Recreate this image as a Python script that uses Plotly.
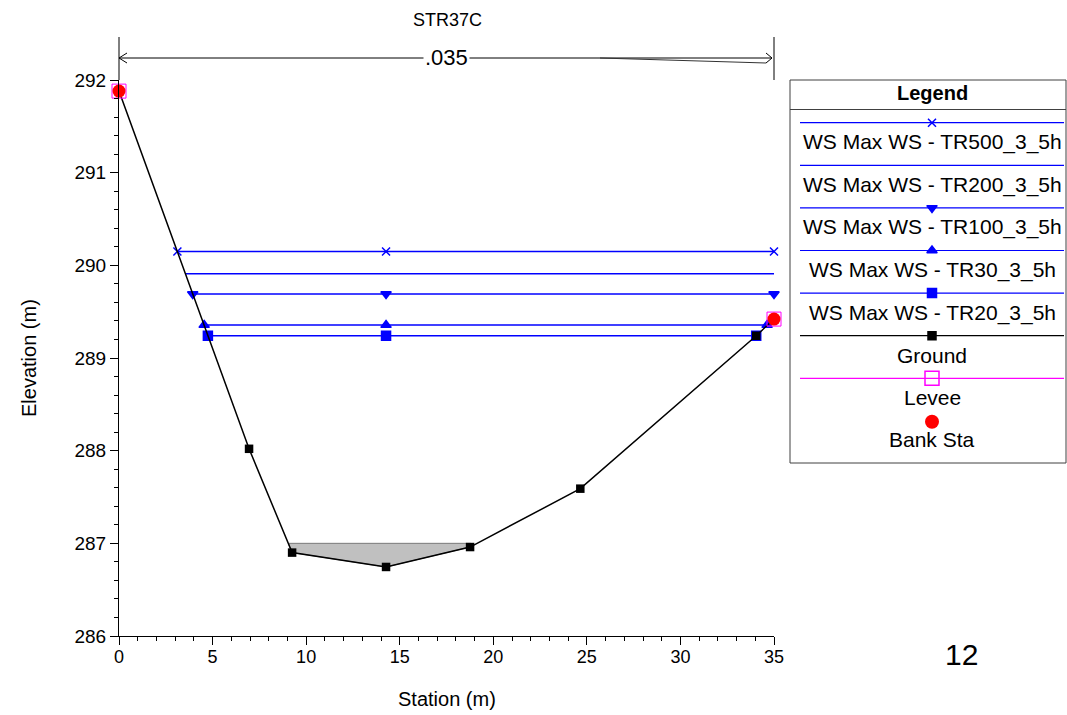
import plotly.graph_objects as go
import numpy as np

# ---------------- data ----------------
title_text = "STR37C"
x_label = "Station (m)"
y_label = "Elevation (m)"
n_value_label = ".035"
n_value_sta = [0.0, 35.0]

ground_sta = [0.0, 6.95, 9.25, 14.27, 18.76, 24.65, 34.05, 35.0]
ground_elev = [291.88, 288.02, 286.90, 286.745, 286.96, 287.59, 289.24, 289.42]

ws500_sta = [3.12, 14.27, 35.0]
ws500_elev = [290.15, 290.15, 290.15]
ws200_sta = [3.55, 35.0]
ws200_elev = [289.91, 289.91]
ws100_sta = [3.94, 14.27, 35.0]
ws100_elev = [289.69, 289.69, 289.69]
ws30_sta = [4.55, 14.27, 34.63]
ws30_elev = [289.355, 289.355, 289.355]
ws20_sta = [4.75, 14.27, 34.05]
ws20_elev = [289.24, 289.24, 289.24]

levee_sta = [0.0, 35.0]
levee_elev = [291.88, 289.42]
bank_sta = [0.0, 35.0]
bank_elev = [291.88, 289.42]

fill_sta = [9.08, 18.80]
fill_elev = 287.0

legend_names = ["WS Max WS - TR500_3_5h", "WS Max WS - TR200_3_5h", "WS Max WS - TR100_3_5h",
                "WS Max WS - TR30_3_5h", "WS Max WS - TR20_3_5h", "Ground", "Levee", "Bank Sta"]
page_number = "12"

# ---------------- layout geometry (pixels) ----------------
W, H = 1067, 715
PL, PR, PT, PB = 119, 774, 80, 636
X_RANGE = [0, 35]
Y_RANGE = [286, 292]

def px_x(p):
    return p / W

def px_y(p):
    return 1 - p / H

def data_to_px_x(v):
    return PL + (v - X_RANGE[0]) / (X_RANGE[1] - X_RANGE[0]) * (PR - PL)

FONT = "Liberation Sans, Arial, sans-serif"
BLUE = "#0000ff"

fig = go.Figure()

# ineffective / fill region
g_sta = np.array(ground_sta)
g_el = np.array(ground_elev)
inner = [(s, e) for s, e in zip(ground_sta, ground_elev) if fill_sta[0] < s < fill_sta[1]]
poly_x = [fill_sta[0], fill_sta[1], fill_sta[1]] + [s for s, _ in reversed(inner)] + [fill_sta[0]]
poly_y = [fill_elev, fill_elev, float(np.interp(fill_sta[1], g_sta, g_el))] + \
         [e for _, e in reversed(inner)] + [float(np.interp(fill_sta[0], g_sta, g_el))]
fig.add_trace(go.Scatter(x=poly_x + [poly_x[0]], y=poly_y + [poly_y[0]], mode="lines",
                         fill="toself", fillcolor="#c0c0c0",
                         line=dict(color="#7a7a7a", width=1), hoverinfo="skip", showlegend=False))

def ws_trace(x, y, symbol):
    return go.Scatter(x=x, y=y, mode="lines+markers" if symbol else "lines",
                      line=dict(color=BLUE, width=1.5),
                      marker=dict(symbol=symbol or "circle", size=9 if symbol != "x-thin" else 8,
                                  color=BLUE, line=dict(color=BLUE, width=1.5)),
                      cliponaxis=False, showlegend=False)

fig.add_trace(ws_trace(ws500_sta, ws500_elev, "x-thin"))
fig.add_trace(ws_trace(ws200_sta, ws200_elev, None))
fig.add_trace(ws_trace(ws100_sta, ws100_elev, "triangle-down"))
fig.add_trace(ws_trace(ws30_sta, ws30_elev, "triangle-up"))
fig.add_trace(ws_trace(ws20_sta, ws20_elev, "square"))

fig.add_trace(go.Scatter(x=ground_sta, y=ground_elev, mode="lines+markers",
                         line=dict(color="black", width=1.5),
                         marker=dict(symbol="square", size=8.5, color="black"),
                         cliponaxis=False, showlegend=False))
fig.add_trace(go.Scatter(x=levee_sta, y=levee_elev, mode="markers",
                         marker=dict(symbol="square-open", size=14, color="#ff00ff",
                                     line=dict(color="#ff00ff", width=1)),
                         cliponaxis=False, showlegend=False))
fig.add_trace(go.Scatter(x=bank_sta, y=bank_elev, mode="markers",
                         marker=dict(symbol="circle", size=13, color="#ff0000"),
                         cliponaxis=False, showlegend=False))

# ---------------- custom legend on an overlay axis ----------------
LX0, LX1, LY0, LY1 = 790, 1066, 80, 463
leg_line_y = [122.7 + 42.6 * i for i in range(7)]
leg_text_dy = 19.5
leg_cx = 932
leg_styles = [
    (BLUE, "x-thin", 8), (BLUE, None, 0), (BLUE, "triangle-down", 9),
    (BLUE, "triangle-up", 9), (BLUE, "square", 9), ("black", "square", 8),
    ("#ff00ff", "square-open", 14),
]
for ly, (col, sym, sz) in zip(leg_line_y, leg_styles):
    fig.add_trace(go.Scatter(x=[800, 1064], y=[ly, ly], mode="lines", line=dict(color=col, width=1.2),
                             xaxis="x2", yaxis="y2", showlegend=False, hoverinfo="skip"))
    if sym:
        fig.add_trace(go.Scatter(x=[leg_cx], y=[ly], mode="markers",
                                 marker=dict(symbol=sym, size=sz, color=col, line=dict(color=col, width=1.5)),
                                 xaxis="x2", yaxis="y2", showlegend=False, hoverinfo="skip",
                                 cliponaxis=False))
fig.add_trace(go.Scatter(x=[leg_cx], y=[421.7], mode="markers",
                         marker=dict(symbol="circle", size=14, color="#ff0000"),
                         xaxis="x2", yaxis="y2", showlegend=False, hoverinfo="skip", cliponaxis=False))

annotations = []
shapes = []
text_y = [ly + leg_text_dy for ly in leg_line_y] + [439.5]
for name, ty in zip(legend_names, text_y):
    annotations.append(dict(x=leg_cx, y=ty, xref="x2", yref="y2", text=name, showarrow=False,
                            font=dict(family=FONT, size=21, color="black"),
                            xanchor="center", yanchor="middle"))
annotations.append(dict(x=leg_cx, y=93.5, xref="x2", yref="y2", text="<b>Legend</b>", showarrow=False,
                        font=dict(family=FONT, size=20, color="black"), xanchor="center", yanchor="middle"))
shapes.append(dict(type="rect", xref="paper", yref="paper", x0=px_x(LX0), x1=px_x(LX1),
                   y0=px_y(LY0), y1=px_y(LY1), line=dict(color="#404040", width=1)))
shapes.append(dict(type="line", xref="paper", yref="paper", x0=px_x(LX0), x1=px_x(LX1),
                   y0=px_y(109.5), y1=px_y(109.5), line=dict(color="#404040", width=1)))

# ---------------- n-value marker ----------------
nx0 = data_to_px_x(n_value_sta[0])
nx1 = data_to_px_x(n_value_sta[1])
ny = 58
ntop = 37
line_style = dict(color="black", width=1)
for xv in (nx0, nx1):
    shapes.append(dict(type="line", xref="paper", yref="paper", x0=px_x(xv), x1=px_x(xv),
                       y0=px_y(ntop), y1=px_y(PT), line=line_style))
shapes.append(dict(type="line", xref="paper", yref="paper", x0=px_x(nx0), x1=px_x(nx1 - 2),
                   y0=px_y(ny), y1=px_y(ny), line=line_style))
shapes.append(dict(type="line", xref="paper", yref="paper", x0=px_x(600), x1=px_x(nx1 - 8),
                   y0=px_y(ny), y1=px_y(ny + 5), line=dict(color="#333333", width=1)))
# arrowheads
for (xa, ya, xb, yb) in [(nx0, ny, nx0 + 8, ny - 5), (nx0, ny, nx0 + 8, ny + 5),
                         (nx1 - 2, ny, nx1 - 8, ny - 5), (nx1 - 2, ny, nx1 - 8, ny + 5)]:
    shapes.append(dict(type="line", xref="paper", yref="paper", x0=px_x(xa), x1=px_x(xb),
                       y0=px_y(ya), y1=px_y(yb), line=line_style))
annotations.append(dict(x=px_x((nx0 + nx1) / 2), y=px_y(ny), xref="paper", yref="paper",
                        text=n_value_label, showarrow=False, bgcolor="white",
                        font=dict(family=FONT, size=22, color="black"),
                        xanchor="center", yanchor="middle", borderpad=1))

# titles
annotations.append(dict(x=px_x(447), y=px_y(20), xref="paper", yref="paper", text=title_text,
                        showarrow=False, font=dict(family=FONT, size=18, color="black"),
                        xanchor="center", yanchor="middle"))
annotations.append(dict(x=px_x(447), y=px_y(699), xref="paper", yref="paper", text=x_label,
                        showarrow=False, font=dict(family=FONT, size=20, color="black"),
                        xanchor="center", yanchor="middle"))
annotations.append(dict(x=px_x(29), y=px_y(358), xref="paper", yref="paper", text=y_label,
                        showarrow=False, textangle=-90, font=dict(family=FONT, size=20, color="black"),
                        xanchor="center", yanchor="middle"))
annotations.append(dict(x=px_x(961), y=px_y(654), xref="paper", yref="paper", text=page_number,
                        showarrow=False, font=dict(family=FONT, size=30, color="black"),
                        xanchor="center", yanchor="middle"))

fig.update_layout(
    width=W, height=H,
    margin=dict(l=0, r=0, t=0, b=0, pad=0, autoexpand=False),
    paper_bgcolor="white", plot_bgcolor="white",
    showlegend=False,
    font=dict(family=FONT, color="black"),
    xaxis=dict(domain=[px_x(PL), px_x(PR)], range=X_RANGE, dtick=5, tick0=0, automargin=False,
               showgrid=False, zeroline=False, showline=True, linecolor="black", linewidth=1,
               ticks="outside", ticklen=8, tickcolor="black", tickwidth=1,
               ticklabelstandoff=-4,
               tickfont=dict(family=FONT, size=18, color="black"),
               minor=dict(dtick=1, ticks="outside", ticklen=4, tickcolor="black", showgrid=False),
               anchor="y"),
    yaxis=dict(domain=[px_y(PB), px_y(PT)], range=Y_RANGE, dtick=1, tick0=286, automargin=False,
               showgrid=False, zeroline=False, showline=True, linecolor="black", linewidth=1,
               ticks="outside", ticklen=8, tickcolor="black", tickwidth=1,
               tickfont=dict(family=FONT, size=19, color="black"),
               minor=dict(dtick=0.2, ticks="outside", ticklen=4, tickcolor="black", showgrid=False),
               anchor="x"),
    xaxis2=dict(domain=[px_x(LX0), px_x(LX1)], range=[LX0, LX1], visible=False, anchor="y2",
                automargin=False),
    yaxis2=dict(domain=[px_y(LY1), px_y(LY0)], range=[LY1, LY0], visible=False, anchor="x2",
                automargin=False),
    shapes=shapes,
    annotations=annotations,
)

fig.write_html("out.html", config={"displayModeBar": False},
               post_script="document.body.style.margin='0px';document.body.style.padding='0px';")
